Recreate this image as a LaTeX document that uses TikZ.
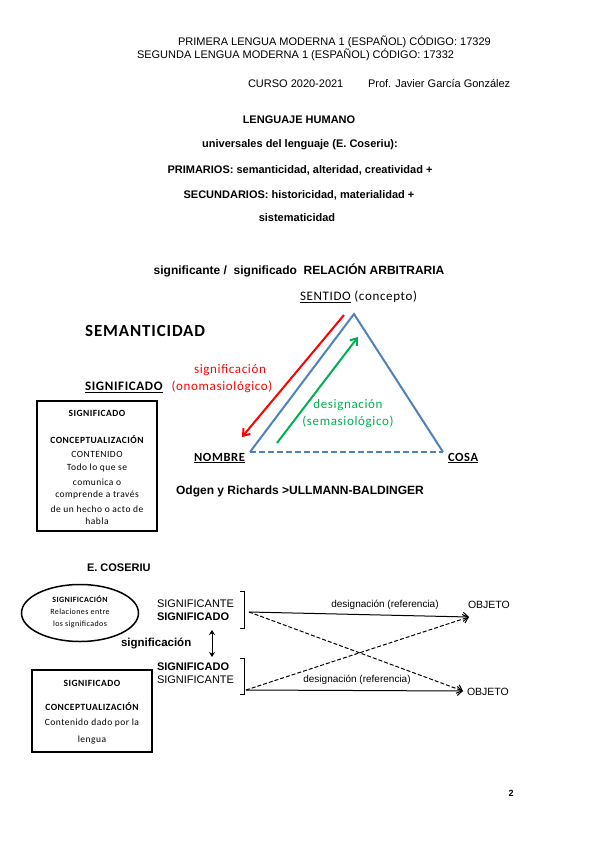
\documentclass[tikz,border=0pt]{standalone}
\usepackage{fontspec}
\setmainfont{Liberation Sans}
\newfontfamily\calib[LetterSpace=5]{Carlito}
\usetikzlibrary{arrows.meta,shapes.geometric}
\definecolor{triblue}{RGB}{79,129,189}
\definecolor{sigred}{RGB}{255,0,0}
\definecolor{desgreen}{RGB}{0,176,80}
\tikzset{
  txt/.style={inner sep=0pt, outer sep=0pt, font=\fontsize{11}{13}\selectfont},
  btxt/.style={txt, font=\fontsize{11}{13}\selectfont\bfseries},
  ctxt/.style={inner sep=0pt, outer sep=0pt, font=\calib\fontsize{13}{15}\selectfont},
  boxtxt/.style={inner sep=0pt, outer sep=0pt, font=\calib\fontsize{9.5}{14}\selectfont, align=center},
  boxhead/.style={boxtxt, font=\calib\bfseries\fontsize{9.5}{14}\selectfont},
  elltxt/.style={boxtxt, font=\calib\fontsize{8}{10}\selectfont},
  triline/.style={draw=triblue, line width=2pt},
  bigarrow/.style={line width=2pt, -{Straight Barb[length=6pt,width=9pt,line width=2pt]}},
  refarrow/.style={line width=1pt, -{Straight Barb[length=5pt,width=9pt]}},
  refdash/.style={refarrow, dashed, dash pattern=on 4pt off 2pt},
  brk/.style={draw, line width=0.8pt},
  framebox/.style={draw, line width=1.5pt}
}
\begin{document}
\begin{tikzpicture}[x=1pt,y=-1pt]
\useasboundingbox[fill=white] (0,0) rectangle (599,848);

% header
\node[txt, anchor=west] (h1) at (178,42) {PRIMERA LENGUA MODERNA 1 (ESPAÑOL) CÓDIGO: 17329};
\node[txt, anchor=west] (h2) at (137,55) {SEGUNDA LENGUA MODERNA 1 (ESPAÑOL) CÓDIGO: 17332};
\node[txt, anchor=west] (h3) at (248,84) {CURSO 2020-2021};
\node[txt, anchor=west] (h4) at (368,84) {Prof. Javier García González};

\node[btxt] (t1) at (299,120) {LENGUAJE HUMANO};
\node[btxt] (t2) at (300,145) {universales del lenguaje (E. Coseriu):};
\node[btxt] (t3) at (300,170) {PRIMARIOS: semanticidad, alteridad, creatividad +};
\node[btxt] (t4) at (299,195) {SECUNDARIOS: historicidad, materialidad +};
\node[btxt] (t5) at (297,218) {sistematicidad};

\node[btxt, font=\fontsize{12}{14}\selectfont\bfseries] (t6) at (299,270) {significante /\ \ significado\ \ RELACIÓN ARBITRARIA};

% triangle
\node[ctxt, anchor=west] (sentido) at (300,297) {\underline{SENTIDO} (concepto)};
\node[inner sep=0pt, font=\calib\bfseries\fontsize{17}{19}\selectfont, anchor=west] (sem) at (85,331) {SEMANTICIDAD};
\node[ctxt, anchor=west, font=\calib\bfseries\fontsize{13}{15}\selectfont] (sigdo) at (85,387) {\underline{SIGNIFICADO}};
\node[ctxt, text=sigred] (sig1) at (230,370) {significación};
\node[ctxt, text=sigred] (sig2) at (222,387) {(onomasiológico)};
\node[ctxt, text=desgreen] (des1) at (348,405) {designación};
\node[ctxt, text=desgreen] (des2) at (348,422) {(semasiológico)};
\node[ctxt, anchor=east, font=\calib\bfseries\fontsize{12.5}{15}\selectfont] (nombre) at (245,458) {\underline{NOMBRE}};
\node[ctxt, anchor=west, font=\calib\bfseries\fontsize{12.5}{15}\selectfont] (cosa) at (448,458) {\underline{COSA}};

\coordinate (S) at (354,314);
\coordinate (N) at (250,452);
\coordinate (C) at (443,452);
\draw[triline, line join=miter] (N) -- (S) -- (C);
\draw[triline, dashed, dash pattern=on 6pt off 3pt] (N) -- (C);

\coordinate (r1) at (344,315);
\coordinate (r2) at (242,437);
\draw[bigarrow, draw=sigred] (r1) -- (r2);
\coordinate (g1) at (277,443);
\coordinate (g2) at (358,337);
\draw[bigarrow, draw=desgreen] (g1) -- (g2);

% box 1
\node[framebox, minimum width=120pt, minimum height=130pt] (box1) at (97,466) {};
\node[boxhead] (b1a) at (97,413) {SIGNIFICADO};
\node[boxhead] (b1b) at (97,440) {CONCEPTUALIZACIÓN};
\node[boxtxt] (b1c) at (97,454) {CONTENIDO};
\node[boxtxt] (b1d) at (97,468) {Todo lo que se};
\node[boxtxt] (b1e) at (97,482) {comunica o};
\node[boxtxt] (b1f) at (97,495) {comprende a través};
\node[boxtxt] (b1g) at (97,509) {de un hecho o acto de};
\node[boxtxt] (b1h) at (97,521) {habla};

\node[btxt, font=\fontsize{12}{14}\selectfont\bfseries] (odgen) at (300,491) {Odgen y Richards >ULLMANN-BALDINGER};

% Coseriu
\node[btxt, anchor=west] (cos) at (87,568) {E. COSERIU};
\node[draw, line width=1.5pt, ellipse, minimum width=117pt, minimum height=57pt, inner sep=0pt] (ell) at (80,613) {};
\node[elltxt, font=\calib\bfseries\fontsize{8}{10}\selectfont] (e1) at (80,599) {SIGNIFICACIÓN};
\node[elltxt] (e2) at (80,612) {Relaciones entre};
\node[elltxt] (e3) at (80,624) {los significados};

\node[txt, anchor=west] (ste1) at (157,604) {SIGNIFICANTE};
\node[btxt, anchor=west] (sdo1) at (157,617) {SIGNIFICADO};
\node[btxt, anchor=west] (sdo2) at (157,667) {SIGNIFICADO};
\node[txt, anchor=west] (ste2) at (157,680) {SIGNIFICANTE};
\node[btxt, font=\fontsize{11.5}{13}\selectfont\bfseries, anchor=west] (sgcion) at (121,643) {significación};

\coordinate (da) at (212,630);
\coordinate (db) at (212,657);
\draw[line width=1pt, {Stealth[length=5pt,width=6pt]}-{Stealth[length=5pt,width=6pt]}] (da) -- (db);

\draw[brk] (240,591) -- (244,591) -- (244,628) -- (240,628);
\draw[brk] (240,658) -- (244,658) -- (244,694) -- (240,694);
\coordinate (u0) at (249,612);
\coordinate (l0) at (246,690);

\node[txt, anchor=west, font=\fontsize{10.5}{12}\selectfont] (obj1) at (468,605) {OBJETO};
\node[txt, anchor=west, font=\fontsize{10.5}{12}\selectfont] (obj2) at (467,692) {OBJETO};
\coordinate (o1) at (469,617);
\coordinate (o2) at (463,691);
\node[txt, font=\fontsize{10}{12}\selectfont] (d1) at (385,605) {designación (referencia)};
\node[txt, font=\fontsize{10}{12}\selectfont] (d2) at (357,680) {designación (referencia)};

\draw[refarrow] (u0) -- (o1);
\draw[refdash] (u0) -- (o2);
\draw[refarrow] (l0) -- (o2);
\draw[refdash] (l0) -- (o1);

% box 2
\node[framebox, minimum width=120pt, minimum height=82pt] (box2) at (92,711) {};
\node[boxhead] (b2a) at (92,683) {SIGNIFICADO};
\node[boxhead] (b2b) at (92,707) {CONCEPTUALIZACIÓN};
\node[boxtxt] (b2c) at (92,723) {Contenido dado por la};
\node[boxtxt] (b2d) at (92,740) {lengua};

\node[btxt, font=\fontsize{9}{11}\selectfont\bfseries] (pg) at (511,793) {2};
\end{tikzpicture}
\end{document}
